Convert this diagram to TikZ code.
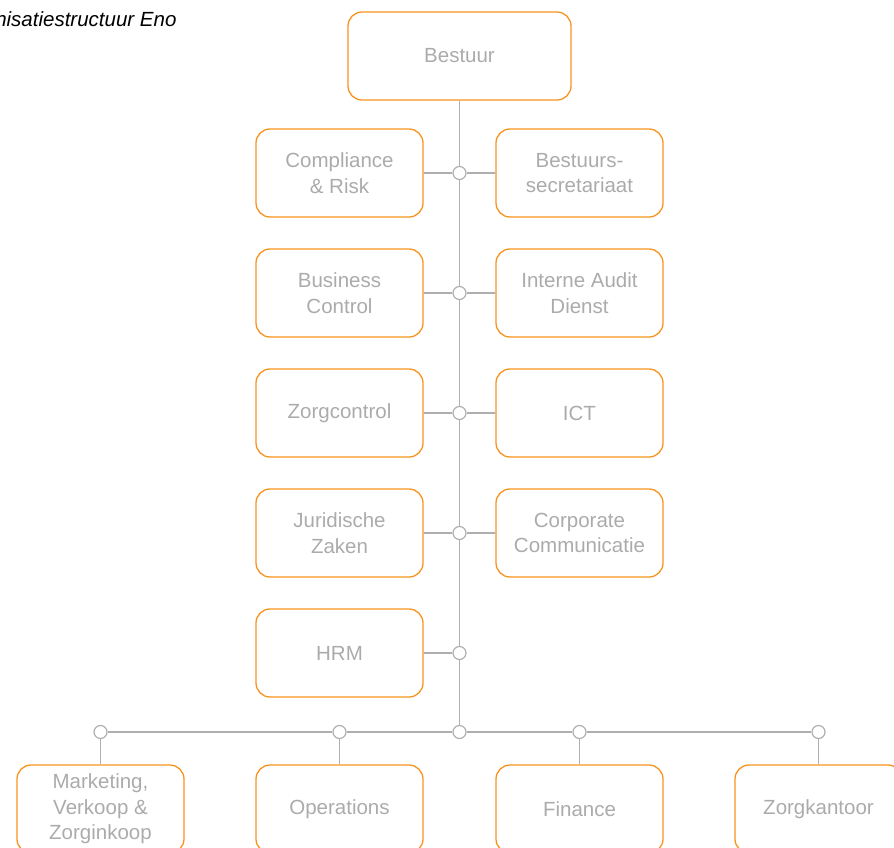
\documentclass[tikz,border=0pt]{standalone}
\usepackage{fontspec}
\setmainfont{Liberation Sans}
\definecolor{boxorange}{HTML}{F7931E}
\definecolor{txtgray}{HTML}{ABABAB}
\definecolor{linegray}{HTML}{AFAFAF}
\begin{document}
\begin{tikzpicture}[x=1pt,y=-1pt,
  unit/.style={draw=boxorange, line width=1.3pt, rounded corners=14pt,
    minimum width=167pt, minimum height=88pt, align=center, text=txtgray,
    font=\fontsize{20.5}{25.5}\selectfont, inner sep=2pt},
  junc/.style={circle, draw=linegray, fill=white, line width=1.2pt,
    minimum size=13pt, inner sep=0pt},
  conn/.style={draw=linegray, line width=1.3pt}]
\useasboundingbox (0,0) rectangle (894,847);
\node[anchor=base east, font=\itshape\fontsize{20.5}{24}\selectfont] (title) at (180,26.5) {Organisatiestructuur Eno};
\node[unit, minimum width=223pt] (bestuur) at (459.5,56) {Bestuur};
\node[unit] (l1) at (339.5,173) {Compliance\\\& Risk};
\node[unit] (r1) at (579.5,173) {Bestuurs-\\secretariaat};
\node[unit] (l2) at (339.5,293) {Business\\Control};
\node[unit] (r2) at (579.5,293) {Interne Audit\\Dienst};
\node[unit] (l3) at (339.5,413) {Zorgcontrol};
\node[unit] (r3) at (579.5,413) {ICT};
\node[unit] (l4) at (339.5,533) {Juridische\\Zaken};
\node[unit] (r4) at (579.5,533) {Corporate\\Communicatie};
\node[unit] (l5) at (339.5,653) {HRM};
\node[unit] (b1) at (100.5,809) {Marketing,\\Verkoop \&\\Zorginkoop};
\node[unit] (b2) at (339.5,809) {Operations};
\node[unit] (b3) at (579.5,809) {Finance};
\node[unit] (b4) at (818.5,809) {Zorgkantoor};
\node[junc] (j1) at (459.5,173) {};
\node[junc] (j2) at (459.5,293) {};
\node[junc] (j3) at (459.5,413) {};
\node[junc] (j4) at (459.5,533) {};
\node[junc] (j5) at (459.5,653) {};
\node[junc] (j6) at (459.5,732) {};
\node[junc] (m1) at (100.5,732) {};
\node[junc] (m2) at (339.5,732) {};
\node[junc] (m3) at (579.5,732) {};
\node[junc] (m4) at (818.5,732) {};
\path[conn] (bestuur.south) -- (j1) -- (j2) -- (j3) -- (j4) -- (j5) -- (j6);
\path[conn] (l1.east) -- (j1) -- (r1.west);
\path[conn] (l2.east) -- (j2) -- (r2.west);
\path[conn] (l3.east) -- (j3) -- (r3.west);
\path[conn] (l4.east) -- (j4) -- (r4.west);
\path[conn] (l5.east) -- (j5);
\path[conn] (m1) -- (m2) -- (j6) -- (m3) -- (m4);
\path[conn] (m1) -- (b1.north);
\path[conn] (m2) -- (b2.north);
\path[conn] (m3) -- (b3.north);
\path[conn] (m4) -- (b4.north);
\end{tikzpicture}
\end{document}
